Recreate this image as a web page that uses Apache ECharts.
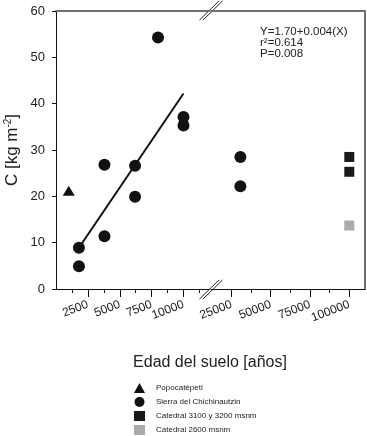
<!DOCTYPE html>
<html lang="es">
<head>
  <meta charset="UTF-8">
  <title>Carbono vs edad del suelo</title>
  <style>
    html,body{margin:0;padding:0;background:#fff;}
    #main{width:367px;height:436px;}
  </style>
</head>
<body>
  <div id="main"></div>
  <script src="https://cdn.jsdelivr.net/npm/echarts@6/dist/echarts.min.js"></script>
  <script>
    const chart=echarts.init(document.querySelector('#main'));

    // datos: [edad, C]
    const popocatepetl=[[1000,21.2]];
    const chichiIzq=[[1800,8.9],[1800,4.9],[3800,26.8],[3800,11.4],[6200,26.6],[6200,19.9],[8000,54.3],[10000,37.1],[10000,35.3]];
    const chichiDer=[[30700,28.5],[30700,22.2]];
    const catedral3100=[[100000,28.5],[100000,25.3]];
    const catedral2600=[[100000,13.7]];
    const regresion=[[1800,8.9],[10000,42.2]];

    const ticksIzq=[2500,5000,7500,10000];
    const menoresIzq=[1250,3750,6250,8750,11250];
    const ticksDer=[25000,50000,75000,100000];
    const menoresDer=[37500,62500,87500];
    // etiquetas repartidas en dos ejes para que no se oculten entre si
    const etiqIzqA=[2500,7500];
    const etiqIzqB=[5000,10000];
    const etiqDerA=[25000,75000];
    const etiqDerB=[50000,100000];

    const fuente='Liberation Sans';
    const negro='#111';
    const gris='#6e6e6e';

    // marca de corte "//"
    function corte(cx,cy){
      const a=[cx-11.5,cy+9.5], b=[cx+8,cy-9.5], c=[cx+11.5,cy-9.5], d=[cx-8,cy+9.5];
      return {
        type:'group',
        z:100,
        children:[
          {type:'polygon',shape:{points:[a,b,c,d]},style:{fill:'#fff'}},
          {type:'line',shape:{x1:a[0],y1:a[1],x2:b[0],y2:b[1]},style:{stroke:'#222',lineWidth:1}},
          {type:'line',shape:{x1:d[0],y1:d[1],x2:c[0],y2:c[1]},style:{stroke:'#222',lineWidth:1}}
        ]
      };
    }

    const etiqueta={rotate:21,fontSize:12,color:'#222',fontFamily:fuente,margin:15,
      hideOverlap:false,showMinLabel:true,showMaxLabel:true,
      formatter:v=>String(v)};
    const xBase={
      type:'value',position:'bottom',
      splitLine:{show:false},
      axisLine:{onZero:false,lineStyle:{color:'#111',width:1}}
    };
    const xMenor={
      type:'value',position:'bottom',
      splitLine:{show:false},
      axisLine:{onZero:false,show:false}
    };
    const xTop={
      type:'value',position:'top',
      splitLine:{show:false},
      axisLine:{onZero:false,lineStyle:{color:gris,width:2}},
      axisTick:{show:false},axisLabel:{show:false}
    };

    const option={
      animation:false,
      grid:[
        {left:56,top:11,width:153,bottom:147,outerBoundsMode:'none'},
        {left:211,top:11,right:2,bottom:147,outerBoundsMode:'none'}
      ],
      xAxis:[
        Object.assign({},xBase,{gridIndex:0,min:0,max:12000,
          axisTick:{length:8,lineStyle:{color:'#111'},customValues:ticksIzq},
          axisLabel:Object.assign({},etiqueta,{customValues:etiqIzqA})}),
        Object.assign({},xBase,{gridIndex:1,min:12000,max:110000,
          axisTick:{length:8,lineStyle:{color:'#111'},customValues:ticksDer},
          axisLabel:Object.assign({},etiqueta,{customValues:etiqDerA})}),
        Object.assign({},xMenor,{gridIndex:0,min:0,max:12000,
          axisTick:{length:4,lineStyle:{color:'#111'},customValues:menoresIzq},
          axisLabel:Object.assign({},etiqueta,{customValues:etiqIzqB})}),
        Object.assign({},xMenor,{gridIndex:1,min:12000,max:110000,
          axisTick:{length:4,lineStyle:{color:'#111'},customValues:menoresDer},
          axisLabel:Object.assign({},etiqueta,{customValues:etiqDerB})}),
        Object.assign({},xTop,{gridIndex:0,min:0,max:12000}),
        Object.assign({},xTop,{gridIndex:1,min:12000,max:110000})
      ],
      yAxis:[
        {
          type:'value',gridIndex:0,min:0,max:60,interval:10,position:'left',
          splitLine:{show:false},
          axisLine:{onZero:false,lineStyle:{color:'#111'}},
          axisTick:{length:4,lineStyle:{color:'#111'}},
          axisLabel:{fontSize:13,color:'#222',fontFamily:fuente,margin:11},
          name:'C [kg m{sup|-2}]',
          nameLocation:'middle',
          nameGap:35,
          nameTextStyle:{fontSize:17,color:'#222',fontFamily:fuente,
            rich:{sup:{fontSize:10,verticalAlign:'top',color:'#222',fontFamily:fuente,padding:[0,0,8,0]}}}
        },
        {
          type:'value',gridIndex:1,min:0,max:60,interval:10,position:'right',
          splitLine:{show:false},
          axisLine:{onZero:false,lineStyle:{color:gris,width:2}},
          axisTick:{show:false},axisLabel:{show:false}
        }
      ],
      legend:{
        orient:'vertical',
        left:134,top:383,padding:0,height:60,
        itemWidth:11,itemHeight:10,itemGap:4,
        textStyle:{fontSize:8,color:'#222',fontFamily:fuente,padding:[0,0,0,6]},
        data:['Popocatépetl','Sierra del Chichinautzin','Catedral 3100 y 3200 msnm','Catedral 2600 msnm']
      },
      graphic:[
        corte(211,289.5),
        corte(211,10.5),
        {
          type:'text',left:260,top:26,z:100,
          style:{text:'Y=1.70+0.004(X)\nr²=0.614\nP=0.008',font:'11.5px "Liberation Sans"',fill:'#222',lineHeight:11}
        },
        {
          type:'text',x:210,y:363,z:100,
          style:{text:'Edad del suelo [años]',font:'16px "Liberation Sans"',fill:'#222',align:'center',verticalAlign:'middle'}
        }
      ],
      series:[
        {
          name:'Regresión',type:'line',xAxisIndex:0,yAxisIndex:0,
          data:regresion,showSymbol:false,symbol:'none',
          lineStyle:{color:negro,width:2},z:1
        },
        {
          name:'Popocatépetl',type:'scatter',xAxisIndex:0,yAxisIndex:0,
          data:popocatepetl,symbol:'triangle',symbolSize:[12,10],
          itemStyle:{color:negro,opacity:1}
        },
        {
          name:'Sierra del Chichinautzin',type:'scatter',xAxisIndex:0,yAxisIndex:0,
          data:chichiIzq,symbol:'circle',symbolSize:12,
          itemStyle:{color:negro,opacity:1}
        },
        {
          name:'Sierra del Chichinautzin',type:'scatter',xAxisIndex:1,yAxisIndex:1,
          data:chichiDer,symbol:'circle',symbolSize:12,
          itemStyle:{color:negro,opacity:1}
        },
        {
          name:'Catedral 3100 y 3200 msnm',type:'scatter',xAxisIndex:1,yAxisIndex:1,
          data:catedral3100,symbol:'rect',symbolSize:10,
          itemStyle:{color:'#1a1a1a',opacity:1}
        },
        {
          name:'Catedral 2600 msnm',type:'scatter',xAxisIndex:1,yAxisIndex:1,
          data:catedral2600,symbol:'rect',symbolSize:10,
          itemStyle:{color:'#ababab',opacity:1}
        }
      ]
    };
    chart.setOption(option);
  </script>
</body>
</html>
